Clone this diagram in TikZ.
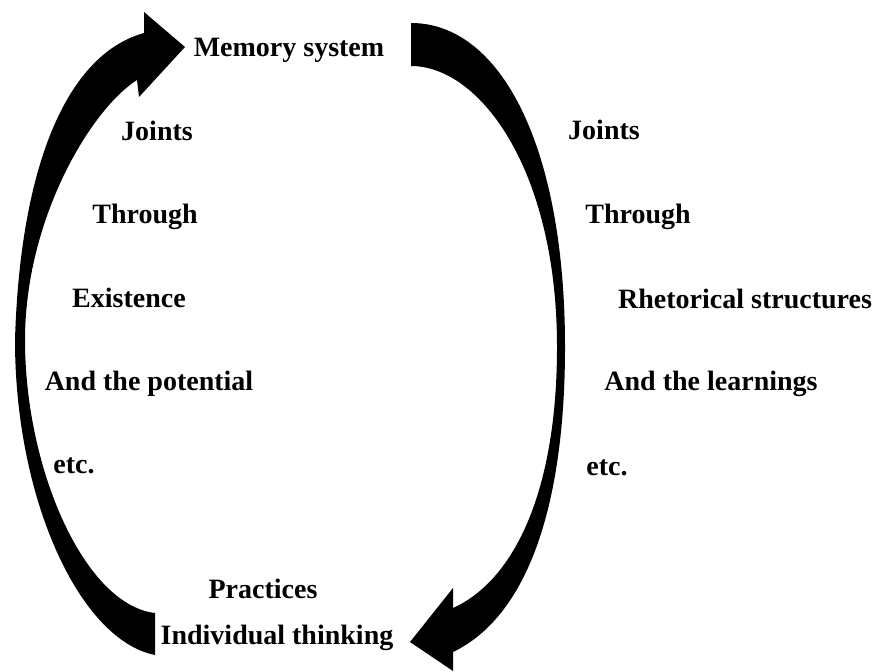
\documentclass[tikz,border=0pt]{standalone}
\usepackage{fontspec}
\setmainfont{Liberation Serif}
\usepackage{tikz}
\usetikzlibrary{positioning}

\begin{document}
\begin{tikzpicture}
      [
        x=1pt, y=-1pt,
        lbl/.style={font=\bfseries\fontsize{28}{32}\selectfont, inner sep=0pt, anchor=base},
        bigarrow/.style={fill=black}
      ]
      \useasboundingbox (0,0) rectangle (874,671);
      \node[lbl] (mem) at (289,57) {Memory system};
      \node[lbl] (lj) at (157,141) {Joints};
      \node[lbl] (lt) at (145,223) {Through};
      \node[lbl] (lex) at (129,307) {Existence};
      \node[lbl] (lpot) at (149,390) {And the potential};
      \node[lbl] (letc) at (74,473) {etc.};
      \node[lbl] (rj) at (604,140) {Joints};
      \node[lbl] (rt) at (638,223) {Through};
      \node[lbl] (rrh) at (745,308) {Rhetorical structures};
      \node[lbl] (rlea) at (711,390) {And the learnings};
      \node[lbl] (retc) at (607,475) {etc.};
      \node[lbl] (ind) at (277,644) {Individual thinking};
      \node[lbl] (prac) at (263,598) {Practices};
      \fill[bigarrow] (155,655) -- (155,613)
        .. controls (85,605) and (25,470) .. (25,340)
        .. controls (25,220) and (90,110) .. (137,80)
        -- (139,97) -- (185,47) -- (144,12) -- (144,33)
        .. controls (65,55) and (20,170) .. (15,340)
        .. controls (15,500) and (80,640) .. (155,655)
        -- cycle;
      \fill[bigarrow] (411,23)
        .. controls (501,23) and (565,147) .. (565,347)
        .. controls (565,500) and (530,615) .. (453,652)
        -- (453,671) -- (410,642) -- (453,588) -- (453,608)
        .. controls (515,580) and (557,490) .. (557,347)
        .. controls (557,170) and (480,66) .. (411,66)
        -- cycle;
    \end{tikzpicture}
\end{document}
